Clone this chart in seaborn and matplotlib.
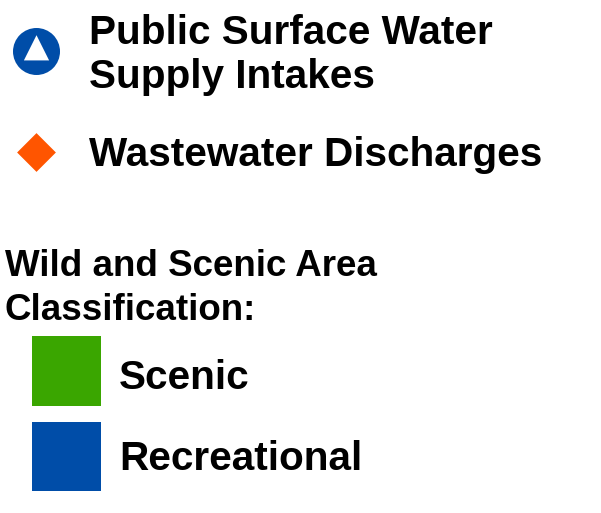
import matplotlib
matplotlib.use('Agg')
import matplotlib.pyplot as plt
import pandas as pd
import seaborn as sns

# legend content
point_labels = ['Public Surface Water\nSupply Intakes', 'Wastewater Discharges']
point_colors = ['#004DA8', '#FF5500']
point_markers = ['o', 'D']
area_title = 'Wild and Scenic Area\nClassification:'
area_labels = ['Scenic', 'Recreational']
area_colors = ['#3AA600', '#004DA8']

sns.set_style('white')
plt.rcParams['font.family'] = ['Liberation Sans', 'DejaVu Sans']

fig = plt.figure(figsize=(6.01, 5.13), dpi=100)
ax = fig.add_axes([0, 0, 1, 1])
ax.set_xlim(0, 601)
ax.set_ylim(513, 0)
ax.axis('off')

# point symbols (pixel layout)
pts = pd.DataFrame({'x': [36.5, 36.5], 'y': [51.5, 152.5],
                    'label': point_labels})
sizes = [1145, 390]
for i, row in pts.iterrows():
    sns.scatterplot(x=[row['x']], y=[row['y']], marker=point_markers[i],
                    s=sizes[i], color=point_colors[i], edgecolor='none',
                    ax=ax, legend=False)
# white triangle inside the intake circle
ax.scatter([36.5], [47.8], marker='^', s=330, color='white', edgecolor='none', zorder=5)

baselines = [[43.5, 87.5], [165.5]]
for lab, bl in zip(point_labels, baselines):
    for line, b in zip(lab.split('\n'), bl):
        ax.text(89, b, line, fontsize=29.2, fontweight='bold', color='black',
                va='baseline', ha='left')

for line, b in zip(area_title.split('\n'), [276, 320]):
    ax.text(5, b, line, fontsize=26.5, fontweight='bold', color='black',
            va='baseline', ha='left')

areas = pd.DataFrame({'x': [66.5, 66.5], 'y': [371, 456.5], 'label': area_labels})
sns.scatterplot(data=areas, x='x', y='y', hue='label', palette=area_colors,
                marker='s', s=2470, edgecolor='none', ax=ax, legend=False)
for lab, b in zip(area_labels, [389, 470]):
    ax.text(119, b, lab, fontsize=29.2, fontweight='bold', color='black',
            va='baseline', ha='left')

fig.savefig('out.png', dpi=100)
